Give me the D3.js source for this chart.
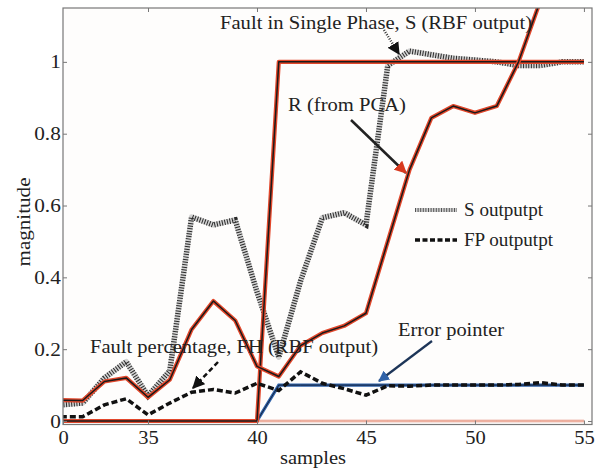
<!DOCTYPE html>
<html><head><meta charset="utf-8">
<script src="https://cdn.jsdelivr.net/npm/d3@7"></script>
<style>
html,body{margin:0;padding:0;background:#fff;}
svg{display:block;}
text{font-family:"Liberation Serif","DejaVu Serif",serif;fill:#222;}
</style></head>
<body>
<svg id="c" width="599" height="468"></svg>
<script>
// ---- data ----
const samples = [31,32,33,34,35,36,37,38,39,40,41,42,43,44,45,46,47,48,49,50,51,52,53,54,55];
const sOutput = [0.045,0.05,0.12,0.165,0.07,0.14,0.568,0.546,0.56,0.36,0.178,0.39,0.566,0.58,0.546,0.99,1.03,1.02,1.01,1.005,1.0,0.99,0.99,1.0,1.0];
const fpOutput = [0.012,0.012,0.045,0.062,0.017,0.05,0.08,0.088,0.078,0.105,0.085,0.137,0.105,0.09,0.072,0.098,0.097,0.1,0.1,0.1,0.1,0.102,0.107,0.1,0.1];
const rPCA = [0.058,0.057,0.11,0.12,0.066,0.115,0.255,0.334,0.28,0.152,0.124,0.21,0.245,0.265,0.3,0.5,0.7,0.844,0.877,0.858,0.877,1.0,1.17,null,null];
const faultStep = [0,0,0,0,0,0,0,0,0,0,1,1,1,1,1,1,1,1,1,1,1,1,1,1,1];
const errorPointer = [0,0,0,0,0,0,0,0,0,0,0.1,0.1,0.1,0.1,0.1,0.1,0.1,0.1,0.1,0.1,0.1,0.1,0.1,0.1,0.1];
const zeroLine = [0,0,0,0,0,0,0,0,0,0,0,0,0,0,0,0,0,0,0,0,0,0,0,0,0];
const xTickValues = [31.1,35,40,45,50,55];
const xTickLabels = ["0","35","40","45","50","55"];
const yTickValues = [0,0.2,0.4,0.6,0.8,1];
const yTickLabels = ["0","0.2","0.4","0.6","0.8","1"];
const xDomain = [31.1,55.37];
const yDomain = [-0.0097,1.15];

const svg = d3.select("#c");
const L=63,R=592,T=8,B=424.5;
const x = d3.scaleLinear().domain(xDomain).range([L,R]);
const y = d3.scaleLinear().domain(yDomain).range([B,T]);

svg.append("rect").attr("x",L).attr("y",T).attr("width",R-L).attr("height",B-T).attr("fill","#fefdfc");
svg.append("defs").append("clipPath").attr("id","clip").append("rect")
  .attr("x",L).attr("y",T).attr("width",R-L).attr("height",B-T);

const g = svg.append("g").attr("clip-path","url(#clip)");
const line = arr => d3.line().defined((d,i)=>arr[i]!==null).x((d,i)=>x(samples[i])).y((d,i)=>y(arr[i]))(samples);

// zero line
g.append("path").attr("d",line(zeroLine)).attr("fill","none").attr("stroke","#e48d78").attr("stroke-width",2.6);
g.append("path").attr("d",line(zeroLine)).attr("fill","none").attr("stroke","#fbe3dc").attr("stroke-width",0.8);

// S output (hatched)
g.append("path").attr("d",line(sOutput)).attr("fill","none").attr("stroke","#d2d2d2").attr("stroke-width",5.5).attr("stroke-linejoin","round");
g.append("path").attr("d",line(sOutput)).attr("fill","none").attr("stroke","#2a2a2a").attr("stroke-width",5.5).attr("stroke-dasharray","1,1.6");

// blue error pointer
g.append("path").attr("d",line(errorPointer)).attr("fill","none").attr("stroke","#2f62a8").attr("stroke-width",3.2);
g.append("path").attr("d",line(errorPointer)).attr("fill","none").attr("stroke","#14233d").attr("stroke-width",1);

// step and R lines (red with black core)
[faultStep,rPCA].forEach(arr=>{
  g.append("path").attr("d",line(arr)).attr("fill","none").attr("stroke","#e2472b").attr("stroke-width",4.2).attr("stroke-linejoin","round");
  g.append("path").attr("d",line(arr)).attr("fill","none").attr("stroke","#1a1a1a").attr("stroke-width",1.5).attr("stroke-linejoin","round");
});

// FP dashed
g.append("path").attr("d",line(fpOutput)).attr("fill","none").attr("stroke","#111").attr("stroke-width",3.5).attr("stroke-dasharray","6,3");

// frame
svg.append("rect").attr("x",L).attr("y",T).attr("width",R-L).attr("height",B-T).attr("fill","none").attr("stroke","#777").attr("stroke-width",1.2);

// axes
const xb = d3.axisBottom(x).tickValues(xTickValues).tickFormat((d,i)=>xTickLabels[i]).tickSizeInner(-4).tickSizeOuter(0).tickPadding(6);
const xt = d3.axisTop(x).tickValues(xTickValues.slice(1)).tickFormat("").tickSizeInner(-4).tickSizeOuter(0);
const yl = d3.axisLeft(y).tickValues(yTickValues).tickFormat((d,i)=>yTickLabels[i]).tickSizeInner(-4).tickSizeOuter(0).tickPadding(2);
const yr = d3.axisRight(y).tickValues(yTickValues).tickFormat("").tickSizeInner(-4).tickSizeOuter(0);
function style(sel){
  sel.select(".domain").remove();
  sel.selectAll("line").attr("stroke","#777");
  sel.selectAll("text").attr("font-size",19).attr("fill","#222").attr("font-family","Liberation Serif, serif");
}
svg.append("g").attr("transform",`translate(0,${B})`).call(xb).call(style)
  .selectAll(".tick text").attr("transform","scale(1.08,1)");
svg.append("g").attr("transform",`translate(0,${T})`).call(xt).call(style);
svg.append("g").attr("transform",`translate(${L},0)`).call(yl).call(style)
  .selectAll(".tick text").attr("transform","scale(1.12,1)");
svg.append("g").attr("transform",`translate(${R},0)`).call(yr).call(style);

function label(parent,xp,yp,str,len,size){
  return parent.append("text").attr("x",xp).attr("y",yp).attr("font-size",size||19)
    .attr("textLength",len).attr("lengthAdjust","spacingAndGlyphs").text(str);
}
label(svg,280,464,"samples",66);
svg.append("text").attr("transform","translate(30,222) rotate(-90)").attr("text-anchor","middle")
  .attr("font-size",19).attr("textLength",89).attr("lengthAdjust","spacingAndGlyphs").text("magnitude");

// legend
const lg = svg.append("g");
lg.append("line").attr("x1",415).attr("x2",457).attr("y1",210).attr("y2",210).attr("stroke","#cfcfcf").attr("stroke-width",4);
lg.append("line").attr("x1",415).attr("x2",457).attr("y1",210).attr("y2",210).attr("stroke","#555").attr("stroke-width",4).attr("stroke-dasharray","1,1.6");
label(lg,464,216,"S outputpt",79);
lg.append("line").attr("x1",415).attr("x2",457).attr("y1",240).attr("y2",240).attr("stroke","#111").attr("stroke-width",3.5).attr("stroke-dasharray","5,2.5");
label(lg,464,246,"FP outputpt",89);

// annotations
const defs = svg.select("defs");
function marker(id,color){
  defs.append("marker").attr("id",id).attr("viewBox","0 0 10 10").attr("refX",9).attr("refY",5)
    .attr("markerWidth",5).attr("markerHeight",5).attr("orient","auto").attr("markerUnits","strokeWidth")
    .append("path").attr("d","M0,0 L10,5 L0,10 Z").attr("fill",color);
}
marker("mBlack","#111"); marker("mRed","#d8391f"); marker("mBlue","#2f62a8");

label(svg,220,29,"Fault in Single Phase, S (RBF output)",312);
svg.append("line").attr("x1",384).attr("y1",30).attr("x2",399).attr("y2",54).attr("stroke","#333").attr("stroke-width",2.5).attr("stroke-dasharray","1,1.5").attr("marker-end","url(#mBlack)");

label(svg,288,111,"R (from PCA)",118);
svg.append("line").attr("x1",351).attr("y1",120).attr("x2",406).attr("y2",173).attr("stroke","#222").attr("stroke-width",2.5).attr("marker-end","url(#mRed)");

label(svg,90,353,"Fault percentage, FH (RBF output)",288);
svg.append("line").attr("x1",218).attr("y1",362).attr("x2",193).attr("y2",388).attr("stroke","#111").attr("stroke-width",2.5).attr("stroke-dasharray","5,3").attr("marker-end","url(#mBlack)");

label(svg,398,336,"Error pointer",106);
svg.append("line").attr("x1",432).attr("y1",341).attr("x2",379).attr("y2",381).attr("stroke","#1d3558").attr("stroke-width",2.2).attr("marker-end","url(#mBlue)");
</script>
</body></html>
